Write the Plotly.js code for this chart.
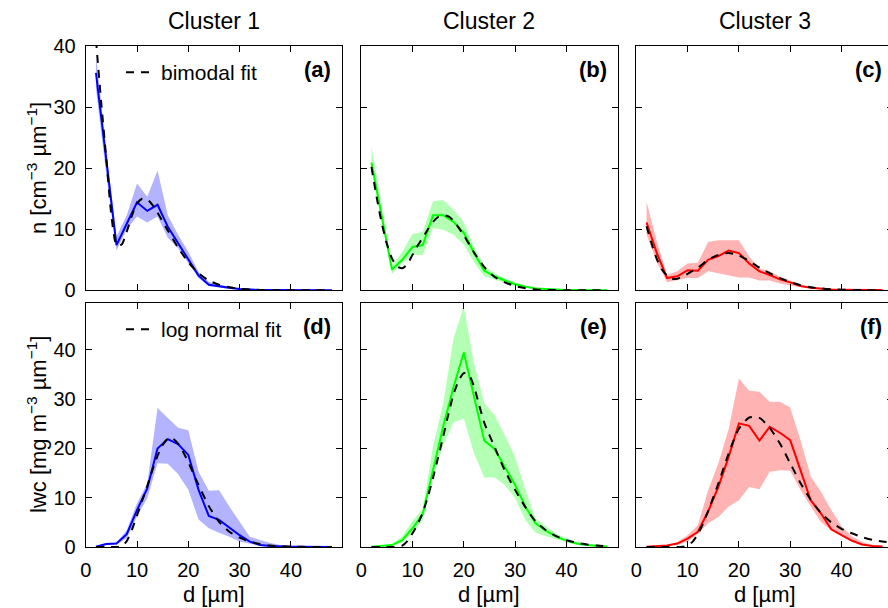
<!DOCTYPE html>
<html>
<head>
<meta charset="utf-8">
<script src="https://cdn.plot.ly/plotly-3.0.1.min.js"></script>
<style>
html, body { margin:0; padding:0; overflow:hidden; background:#fff; }
#chart { width:900px; height:608px; }
</style>
</head>
<body>
<div id="chart"></div>
<script>
// ---------- data ----------
const clusterTitles = ['Cluster 1', 'Cluster 2', 'Cluster 3'];
const panelLabels = ['(a)', '(b)', '(c)', '(d)', '(e)', '(f)'];
const xTickVals = [0, 10, 20, 30, 40];
const yTickVals = [0, 10, 20, 30, 40];

// diameter bins [µm]
const d = [2,4,6,8,10,12,14,16,18,20,22,24,26,28,30,32,34,36,38,40,42,44,46,48];

// number concentration n [cm^-3 µm^-1]
const nMean1 = [35.6,21,7.4,10.9,14.4,13.0,14.0,10.4,7.8,5.2,2.4,0.9,0.6,0.4,0.2,0.1,0.05,0.03,0.02,0.01,0.01,0,0,0];
const nUp1   = [38.5,23,8.8,12.3,17.5,15.3,19.6,12.3,9.1,6.3,3.0,1.4,0.9,0.6,0.3,0.2,0.1,0.05,0.04,0.03,0.02,0.01,0.01,0.01];
const nLo1   = [33,19,6.5,10,12.1,11.1,12.1,8.6,6.9,4.4,2.0,0.7,0.4,0.2,0.1,0.05,0.02,0.01,0,0,0,0,0,0];

const nMean2 = [20.9,12,3.4,5.0,7.1,7.4,12.3,12.3,11.2,9.4,6.1,3.2,2.3,1.6,1.0,0.6,0.3,0.2,0.1,0.05,0.05,0.03,0.02,0.02];
const nUp2   = [23.5,13.5,4.0,6.3,9.2,9.6,14.6,14.8,13.2,11.2,7.1,3.9,2.8,2.0,1.3,0.8,0.4,0.25,0.15,0.1,0.08,0.05,0.04,0.03];
const nLo2   = [19.7,11,2.7,4.4,5.8,5.8,10.2,9.9,9.1,7.5,4.6,2.3,1.7,1.2,0.7,0.4,0.2,0.1,0.05,0.02,0.02,0.01,0.01,0.01];

const nMean3 = [11.1,6.1,2.0,2.3,3.3,3.2,5.0,5.6,6.5,6.1,4.4,3.1,2.5,1.8,1.3,0.7,0.4,0.25,0.15,0.1,0.05,0.03,0.03,0.03];
const nUp3   = [14.5,8,2.5,3.1,4.4,4.5,7.9,8.2,8.2,8.2,5.5,3.6,3.1,2.2,1.6,1.0,0.6,0.4,0.25,0.15,0.1,0.06,0.05,0.04];
const nLo3   = [9.1,4.6,1.3,1.6,2.0,2.0,3.1,2.8,2.5,2.1,2.1,1.6,1.6,1.1,0.8,0.5,0.3,0.15,0.08,0.05,0.02,0.01,0.01,0.01];

// bimodal fits
const fitD1 = [2,3,4,5,6,7,8,9,10,11,12,13,14,16,18,20,22,24,26,28,30,32,34,36,40,44,48];
const nFit1 = [41,31,21.7,12.3,7.4,7.5,9.6,12.2,14.2,15.0,14.9,14.0,12.7,9.8,7.0,4.6,2.8,1.6,0.9,0.5,0.25,0.12,0.06,0.03,0.01,0,0];
const fitD2 = [2,3,4,5,6,7,8,9,10,11,12,13,14,15,16,17,18,20,22,24,26,28,30,32,34,36,40,44,48];
const nFit2 = [20.2,15.3,11.0,7.6,5.2,3.9,3.6,4.3,5.8,7.3,8.6,10.0,11.2,12.0,12.3,12.1,11.4,9.0,6.2,3.8,2.2,1.3,0.7,0.35,0.15,0.07,0.01,0,0];
const fitD3 = [2,3,4,5,6,7,8,9,10,12,14,16,18,20,22,24,26,28,30,32,34,36,38,40,44,48];
const nFit3 = [10.5,7.6,5.1,3.4,2.4,1.9,1.9,2.2,2.7,3.7,5.0,5.8,6.1,5.7,4.8,3.7,2.8,2.0,1.35,0.85,0.5,0.3,0.17,0.1,0.03,0.01];

// liquid water content lwc [mg m^-3 µm^-1]
const lMean1 = [0.05,0.6,0.7,2.6,7.5,11.9,20.0,21.9,20.9,18.7,11.6,6.3,5.5,4.0,2.4,1.1,0.4,0.2,0.1,0.05,0.05,0.03,0.02,0.02];
const lUp1   = [0.2,0.8,0.9,3.4,8.9,12.9,28.2,26.1,24.2,23.7,15.3,11.4,11.5,8.2,5.1,2.1,1.4,0.8,0.4,0.2,0.1,0.05,0.05,0.05];
const lLo1   = [0,0.4,0.5,1.8,6.2,9.9,17.0,16.9,14.8,11.6,5.6,3.8,2.9,2.1,1.1,0.6,0.2,0.1,0.05,0,0,0,0,0];

const lMean2 = [0.05,0.3,0.4,1.4,3.8,6.7,15.5,24.5,32.5,39.5,30.5,21.6,19.9,16.3,12.6,8.2,4.8,3.3,2.1,1.3,0.7,0.4,0.2,0.1];
const lUp2   = [0.1,0.4,0.6,2.2,5.3,7.8,20.4,29.2,42.4,48.8,37.3,29.2,26.8,22.7,18.3,11.6,5.8,4.2,2.7,1.8,1.0,0.6,0.3,0.15];
const lLo2   = [0,0.2,0.3,0.9,2.9,5.5,14.3,20.7,25.3,26.1,19.0,14.1,14.1,12.6,9.9,5.5,2.9,2.2,1.6,0.9,0.4,0.2,0.1,0.05];

const lMean3 = [0.05,0.2,0.3,0.7,1.7,3.1,7.2,12.2,18.3,25.1,24.6,21.6,24.4,23.2,21.7,15.6,9.5,6.8,3.6,2.4,1.3,0.5,0.2,0.1];
const lUp3   = [0.1,0.3,0.4,1.0,2.4,4.4,11.5,17.0,23.9,34.2,31.7,31.5,29.5,29.5,28.3,21.7,14.3,11.2,7.5,4.2,2.2,1.0,0.4,0.2];
const lLo3   = [0,0.1,0.2,0.4,1.1,2.7,4.8,6.1,8.2,9.5,12.2,11.7,15.3,15.6,15.5,11.6,8.2,5.1,3.4,2.2,1.1,0.3,0.1,0.05];

// log-normal fits
const lfitD1 = [2,4,6,7,8,9,10,11,12,13,14,15,16,17,18,19,20,22,24,26,28,30,32,34,36,38,40,44,48];
const lFit1  = [0,0,0,0.1,1.2,3.5,6.4,9.4,12.4,15.6,18.5,20.7,22.0,22.0,21.0,19.3,17.2,12.6,8.3,5.1,3.1,1.9,1.1,0.6,0.3,0.15,0.07,0.01,0];
const lfitD2 = [2,4,6,7,8,9,10,11,12,13,14,15,16,17,18,19,20,21,22,23,24,26,28,30,32,34,36,38,40,42,44,46,48];
const lFit2  = [0,0,0,0.05,0.3,1.2,2.8,4.6,7.0,10.2,14.0,18.2,22.5,27,31,33.8,35.3,35,32.5,28.8,25.2,20.3,15.5,11.6,8.1,5.2,3.4,2.2,1.4,0.85,0.5,0.3,0.17];
const lfitD3 = [2,4,6,8,9,10,11,12,13,14,16,18,20,22,24,26,28,30,32,34,36,38,40,42,44,46,48,50];
const lFit3  = [0,0,0,0,0.05,0.3,1.1,2.6,4.7,7.3,12.9,19.0,24.0,26.3,26.2,24.2,21.0,17.0,13.0,9.6,6.9,5.0,3.7,2.8,2.0,1.45,1.1,0.85];

// ---------- styling ----------
const FONT = '"Liberation Sans", Arial, Helvetica, sans-serif';
const W = 900, H = 608;
const lineColors = ['#0000ff', '#00ff00', '#ff0000'];
const bandColors = ['rgb(179,179,255)', 'rgb(179,255,179)', 'rgb(255,179,179)'];
const colPx = [[85.7, 342.2], [361.2, 617.7], [636.3, 892.8]];
const rowPx = [[46, 290.3], [302.7, 547]];
const xDom = c => [colPx[c][0] / W, colPx[c][1] / W];
const yDom = r => [1 - rowPx[r][1] / H, 1 - rowPx[r][0] / H];

const panels = [
  {mean: nMean1, up: nUp1, lo: nLo1, fx: fitD1, fy: nFit1},
  {mean: nMean2, up: nUp2, lo: nLo2, fx: fitD2, fy: nFit2},
  {mean: nMean3, up: nUp3, lo: nLo3, fx: fitD3, fy: nFit3},
  {mean: lMean1, up: lUp1, lo: lLo1, fx: lfitD1, fy: lFit1},
  {mean: lMean2, up: lUp2, lo: lLo2, fx: lfitD2, fy: lFit2},
  {mean: lMean3, up: lUp3, lo: lLo3, fx: lfitD3, fy: lFit3}
];

const traces = [];
const layout = {
  width: W, height: H,
  margin: {l: 0, r: 0, t: 0, b: 0},
  paper_bgcolor: '#fff', plot_bgcolor: '#fff',
  font: {family: FONT, color: '#000'},
  showlegend: true,
  annotations: [],
  legend: {x: 121 / W, xanchor: 'left', y: 1 - 52 / H, yanchor: 'top', bgcolor: 'rgba(0,0,0,0)',
           borderwidth: 0, font: {size: 21, family: FONT, color: '#000'}, itemwidth: 30},
  legend2: {x: 121 / W, xanchor: 'left', y: 1 - 309 / H, yanchor: 'top', bgcolor: 'rgba(0,0,0,0)',
            borderwidth: 0, font: {size: 21, family: FONT, color: '#000'}, itemwidth: 30}
};

panels.forEach((p, i) => {
  const row = i < 3 ? 0 : 1, col = i % 3;
  const xa = i === 0 ? 'x' : 'x' + (i + 1);
  const ya = i === 0 ? 'y' : 'y' + (i + 1);
  traces.push({x: d, y: p.lo, xaxis: xa, yaxis: ya, type: 'scatter', mode: 'lines',
               line: {width: 0, color: bandColors[col]}, showlegend: false, hoverinfo: 'skip'});
  traces.push({x: d, y: p.up, xaxis: xa, yaxis: ya, type: 'scatter', mode: 'lines', fill: 'tonexty',
               fillcolor: bandColors[col], line: {width: 0, color: bandColors[col]}, showlegend: false, hoverinfo: 'skip'});
  traces.push({x: d, y: p.mean, xaxis: xa, yaxis: ya, type: 'scatter', mode: 'lines',
               line: {width: 2, color: lineColors[col]}, showlegend: false});
  const fit = {x: p.fx, y: p.fy, xaxis: xa, yaxis: ya, type: 'scatter', mode: 'lines',
               line: {width: 2, color: '#000', dash: '8px,7px', shape: 'spline', smoothing: 0.6},
               showlegend: false};
  if (i === 0) { fit.showlegend = true; fit.name = 'bimodal fit'; fit.legend = 'legend'; }
  if (i === 3) { fit.showlegend = true; fit.name = 'log normal fit'; fit.legend = 'legend2'; }
  traces.push(fit);

  const common = {showline: true, linecolor: '#000', linewidth: 1, mirror: 'ticks', ticks: 'inside',
                  ticklen: 6, tickwidth: 1, tickcolor: '#000', showgrid: false, zeroline: false,
                  tickfont: {size: 20, family: FONT, color: '#000'}, fixedrange: true};
  layout[i === 0 ? 'xaxis' : 'xaxis' + (i + 1)] = Object.assign({}, common, {
    domain: xDom(col), anchor: ya, range: [0, 50], tickvals: xTickVals, ticktext: xTickVals.map(String),
    showticklabels: row === 1, ticklabelstandoff: 5
  });
  layout[i === 0 ? 'yaxis' : 'yaxis' + (i + 1)] = Object.assign({}, common, {
    domain: yDom(row), anchor: xa, range: row === 0 ? [0, 40] : [0, 49.6], tickvals: yTickVals,
    ticktext: yTickVals.map(String), showticklabels: col === 0, ticklabelstandoff: 5
  });
  layout.annotations.push({text: '<b>' + panelLabels[i] + '</b>', xref: xa + ' domain', yref: ya + ' domain',
    x: 1, y: 1, xanchor: 'right', yanchor: 'top', xshift: -9, yshift: -9, showarrow: false,
    font: {size: 22, family: FONT, color: '#000'}});
});

clusterTitles.forEach((t, c) => {
  layout.annotations.push({text: t, xref: 'paper', yref: 'paper', x: (colPx[c][0] + colPx[c][1]) / 2 / W,
    y: 1 - 21 / H, xanchor: 'center', yanchor: 'middle', showarrow: false,
    font: {size: 23, family: FONT, color: '#000'}});
  layout.annotations.push({text: 'd [µm]', xref: 'paper', yref: 'paper', x: (colPx[c][0] + colPx[c][1]) / 2 / W,
    y: 1 - 594 / H, xanchor: 'center', yanchor: 'middle', showarrow: false,
    font: {size: 22, family: FONT, color: '#000'}});
});
layout.annotations.push({text: 'n [cm<sup>−3</sup> µm<sup>−1</sup>]', xref: 'paper', yref: 'paper',
  x: 37 / W, y: 1 - 168 / H, xanchor: 'center', yanchor: 'middle', textangle: -90, showarrow: false,
  font: {size: 22, family: FONT, color: '#000'}});
layout.annotations.push({text: 'lwc [mg m<sup>−3</sup> µm<sup>−1</sup>]', xref: 'paper', yref: 'paper',
  x: 37 / W, y: 1 - 425 / H, xanchor: 'center', yanchor: 'middle', textangle: -90, showarrow: false,
  font: {size: 22, family: FONT, color: '#000'}});

Plotly.newPlot('chart', traces, layout, {staticPlot: true, displayModeBar: false});
</script>
</body>
</html>
